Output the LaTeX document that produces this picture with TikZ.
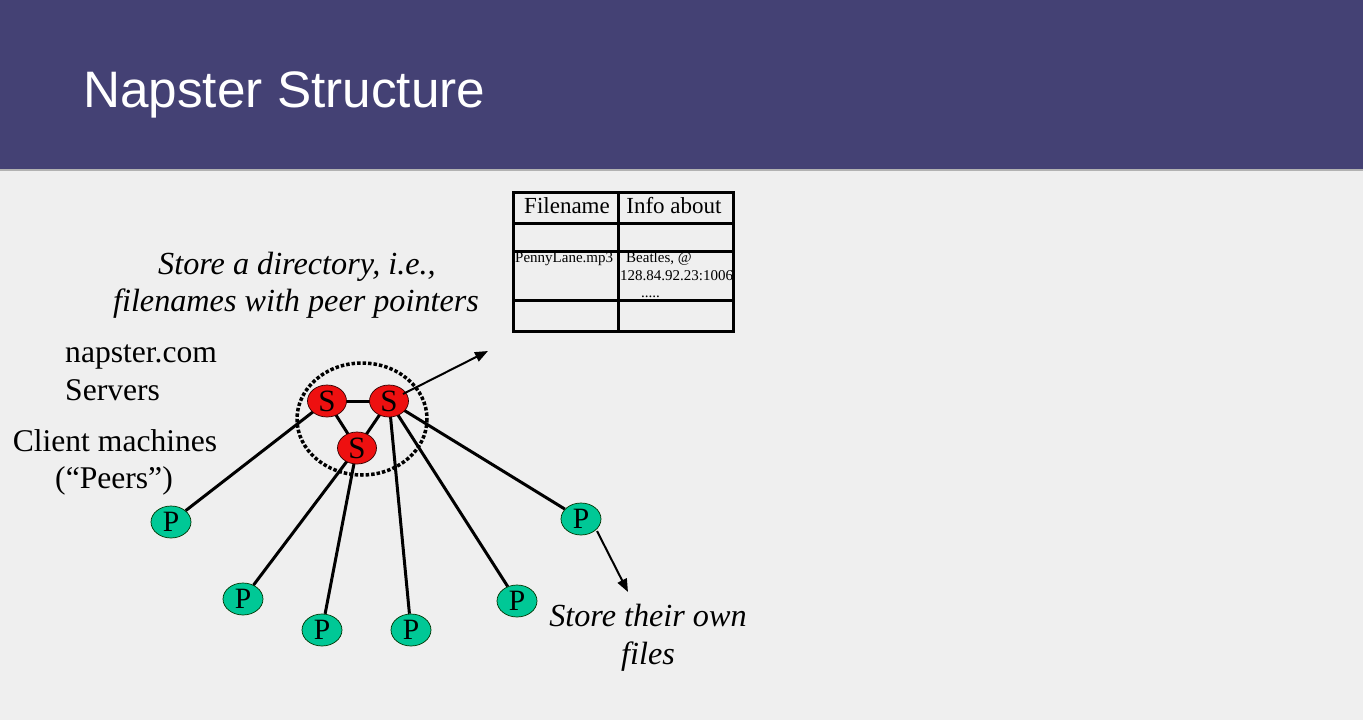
\documentclass[tikz,border=0pt]{standalone}
\usepackage{fontspec}
\setmainfont{Liberation Serif}
\newfontfamily\titlefont{Liberation Sans}
\usetikzlibrary{arrows.meta,shapes.geometric}
\definecolor{hdr}{RGB}{68,65,116}
\definecolor{bg}{RGB}{239,239,239}
\definecolor{srvred}{RGB}{238,16,16}
\definecolor{peergreen}{RGB}{0,200,150}
\tikzset{
  srv/.style={ellipse,draw=black!80!red,line width=0.7,fill=srvred,minimum width=39,minimum height=32,inner sep=0,font=\fontsize{31}{31}\selectfont},
  peer/.style={ellipse,draw=black!80!green,line width=0.7,fill=peergreen,minimum width=40,minimum height=32,inner sep=0,font=\fontsize{29.5}{29.5}\selectfont},
  link/.style={line width=3},
  callout/.style={line width=2,-{Triangle[length=13,width=10]}},
  lbl/.style={font=\fontsize{31.6}{37}\selectfont,inner sep=0},
  ilbl/.style={font=\fontsize{32.2}{37}\selectfont\itshape,inner sep=0},
  tbl/.style={line width=3},
  thead/.style={font=\fontsize{23}{23}\selectfont,inner sep=0,anchor=base},
  tsmall/.style={font=\fontsize{15}{15}\selectfont,inner sep=0,anchor=base west},
}
\begin{document}
\begin{tikzpicture}[x=1pt,y=-1pt]
\useasboundingbox (0,0) rectangle (1363,720);
\fill[bg] (0,0) rectangle (1363,720);
\fill[hdr] (0,0) rectangle (1363,169);
\fill[gray!60] (0,169) rectangle (1363,171);
\node[anchor=base west,inner sep=0,text=white,font=\titlefont\fontsize{51.3}{56}\selectfont] (title) at (83,107) {Napster Structure};

% table
\draw[tbl] (513,192) rectangle (733,331);
\draw[tbl] (618,192) -- (618,331);
\draw[tbl] (513,223) -- (733,223);
\draw[tbl] (513,251) -- (733,251);
\draw[tbl] (513,300) -- (733,300);
\node[thead] (h1) at (567,213) {Filename};
\node[thead] (h2) at (674,213) {Info about};
\node[tsmall] (fn) at (515,262) {PennyLane.mp3};
\node[tsmall] (inf1) at (626,262) {Beatles, @};
\node[tsmall] (inf2) at (620,280) {128.84.92.23:1006};
\node[tsmall] (inf3) at (641,297) {.....};

% labels
\node[ilbl,anchor=base] (d1) at (297,274) {Store a directory, i.e.,};
\node[ilbl,anchor=base] (d2) at (296,311) {filenames with peer pointers};
\node[lbl,anchor=base west] (n1) at (65,362) {napster.com};
\node[lbl,anchor=base west] (n2) at (65,400) {Servers};
\node[lbl,anchor=base] (c1) at (115,451) {Client machines};
\node[lbl,anchor=base] (c2) at (114,488) {(“Peers”)};
\node[ilbl,anchor=base] (f1) at (648,626) {Store their own};
\node[ilbl,anchor=base] (f2) at (648,664) {files};

% dotted cluster
\draw[line width=3.5,dotted] (362,419) ellipse [x radius=65,y radius=56];

% nodes
\node[peer] (p1) at (171,522) {P};
\node[peer] (p2) at (243,599) {P};
\node[peer] (p3) at (322,630) {P};
\node[peer] (p4) at (411,630) {P};
\node[peer] (p5) at (517,601) {P};
\node[peer] (p6) at (581,519) {P};

\coordinate (s1c) at (327,401);
\coordinate (s2c) at (389,401);
\coordinate (s3c) at (357,448);
\draw[link] (s1c) -- (s2c);
\draw[link] (s1c) -- (s3c);
\draw[link] (s2c) -- (s3c);
\draw[link] (s1c) -- (p1);
\draw[link] (s3c) -- (p2);
\draw[link] (s3c) -- (p3);
\draw[link] (s2c) -- (p4);
\draw[link] (s2c) -- (p5);
\draw[link] (s2c) -- (p6);
\node[srv] (s1) at (s1c) {S};
\node[srv] (s2) at (s2c) {S};
\node[srv] (s3) at (s3c) {S};

\coordinate (dirend) at (488,351);
\coordinate (fileend) at (628,592);
\draw[callout] (s2.center) ++(14,-7) coordinate (s2out) (s2out) -- (dirend);
\draw[callout] (p6) ++(16,12) coordinate (p6out) (p6out) -- (fileend);
\end{tikzpicture}
\end{document}
